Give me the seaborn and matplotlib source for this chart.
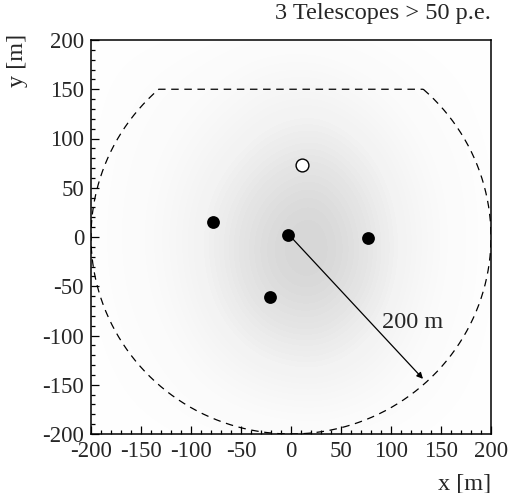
import numpy as np
import pandas as pd
import matplotlib
matplotlib.use("Agg")
import matplotlib.pyplot as plt
from matplotlib.colors import LinearSegmentedColormap
from matplotlib.ticker import MultipleLocator
import seaborn as sns

# Telescope positions [m]
tel_x = [-78, -3, 77, -21]
tel_y = [15, 2, -1, -61]
# Reference position (open marker) [m]
ref_x = [11]
ref_y = [73]

# Shower-core density on a 50 m grid (relative counts per cell)
grid_x = [-175, -125, -75, -25, 25, 75, 125, 175]
grid_y = [175, 125, 75, 25, -25, -75, -125, -175]
core_density = [
    [0.3, 0.5, 0.8, 1.5, 1.5, 0.8, 0.4, 0.2],
    [0.4, 0.8, 1.5, 2.5, 3.0, 2.0, 0.8, 0.3],
    [0.5, 1.2, 2.5, 4.0, 5.0, 3.5, 1.5, 0.5],
    [0.6, 1.5, 3.5, 5.5, 6.5, 4.5, 2.0, 0.6],
    [0.6, 1.5, 3.5, 6.0, 7.0, 5.0, 2.0, 0.6],
    [0.5, 1.2, 3.0, 5.0, 5.5, 4.0, 1.5, 0.5],
    [0.3, 0.7, 1.8, 3.0, 3.5, 2.5, 1.0, 0.3],
    [0.2, 0.4, 0.8, 1.2, 1.5, 1.0, 0.5, 0.2],
]

# Simulation area: circle of 200 m radius, cut at y = 150 m
field_radius = 200
field_ymax = 150
arrow_tip = (132, -144)

sns.set_style("ticks")
plt.rcParams["font.family"] = ["Liberation Serif", "DejaVu Serif"]
plt.rcParams["axes.unicode_minus"] = False

fig = plt.figure(figsize=(5.11, 4.93), dpi=100)
ax = fig.add_axes([91 / 511, 1 - 434 / 493, 400 / 511, 394 / 493])

cells = pd.DataFrame(
    [(gx, gy, core_density[i][j]) for i, gy in enumerate(grid_y) for j, gx in enumerate(grid_x)],
    columns=["x", "y", "w"],
)
haze = LinearSegmentedColormap.from_list("haze", ["#ffffff", "#f2f2f2", "#d6d6d6"])
sns.kdeplot(data=cells, x="x", y="y", weights="w", fill=True, cmap=haze,
            levels=30, thresh=0.0, bw_adjust=0.75, ax=ax, zorder=0)

# Boundary of the simulated area: arc below the cut, straight edge on top
xc = np.sqrt(field_radius**2 - field_ymax**2)
a0 = np.arctan2(field_ymax, xc)
ang = np.linspace(a0, np.pi - a0 - 2 * np.pi, 400)
bx = np.concatenate([field_radius * np.cos(ang), [-xc], [xc]])
by = np.concatenate([field_radius * np.sin(ang), [field_ymax], [field_ymax]])
ax.plot(bx, by, color="black", lw=0.9, ls=(0, (6, 4.5)), zorder=2)

sns.scatterplot(x=tel_x, y=tel_y, ax=ax, s=85, color="black", edgecolor="black",
                linewidth=0, zorder=4)
sns.scatterplot(x=ref_x, y=ref_y, ax=ax, s=85, facecolor="white", edgecolor="black",
                linewidth=1.0, zorder=4)

ax.annotate("", xy=arrow_tip, xytext=(0, 0),
            arrowprops=dict(arrowstyle="-|>", color="black", lw=0.9,
                            mutation_scale=9, shrinkA=0, shrinkB=0), zorder=3)
ax.text(122, -87, "200 m", fontsize=17.5, ha="center", va="center", zorder=5)

ax.set_xlim(-200, 200)
ax.set_ylim(-200, 200)
ax.xaxis.set_major_locator(MultipleLocator(50))
ax.xaxis.set_minor_locator(MultipleLocator(10))
ax.yaxis.set_major_locator(MultipleLocator(50))
ax.yaxis.set_minor_locator(MultipleLocator(10))
ax.tick_params(which="both", direction="in", top=False, right=False,
               labelsize=16.5, width=0.9, color="black")
ax.tick_params(which="major", length=6, pad=5)
ax.tick_params(which="minor", length=3)
for s in ax.spines.values():
    s.set_linewidth(1.1)
    s.set_color("black")
ax.set_xlabel("")
ax.set_ylabel("")

fig.text(491 / 511, 1 - 14 / 493, "3 Telescopes > 50 p.e.", fontsize=17.5,
         ha="right", va="center")
fig.text(491 / 511, 1 - 484 / 493, "x [m]", fontsize=17.5, ha="right", va="center")
fig.text(18 / 511, 1 - 34 / 493, "y [m]", fontsize=17.5, ha="center", va="top",
         rotation=90)

fig.savefig("out.png", dpi=100)
